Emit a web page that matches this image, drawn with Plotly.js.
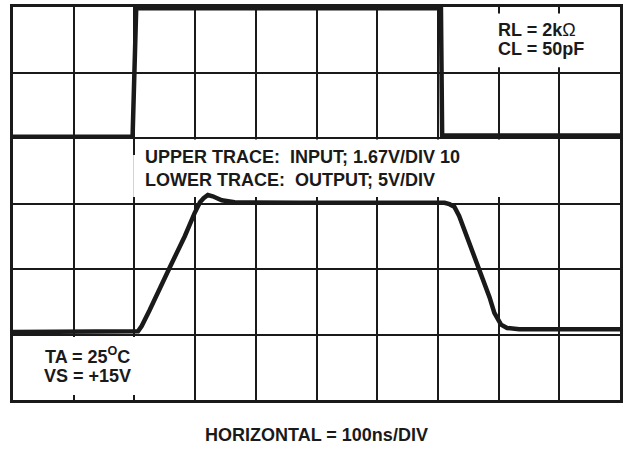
<!DOCTYPE html>
<html>
<head>
<meta charset="utf-8">
<script src="https://cdn.plot.ly/plotly-3.0.1.min.js"></script>
<style>
  html, body { margin: 0; padding: 0; background: #ffffff; }
  #chart { width: 623px; height: 449px; }
</style>
</head>
<body>
<div id="chart"></div>
<script>
// Time axis in ns (10 divisions x 100 ns), vertical axis in divisions (6 divisions)
const inputTime = [0, 197, 203, 705, 707, 1000];
const inputLevel = [4.02, 4.02, 5.98, 5.98, 4.04, 4.04];

const outputTime = [0, 197, 206, 212, 225, 258, 283, 299, 308, 314, 321, 329, 344, 365, 406, 472, 554, 636, 711, 719, 727, 735, 752, 768, 785, 793, 804, 814, 834, 900, 1000];
const outputLevel = [1.04, 1.04, 1.05, 1.13, 1.37, 2.02, 2.50, 2.85, 3.02, 3.08, 3.13, 3.11, 3.05, 3.02, 3.01, 3.01, 3.01, 3.01, 3.01, 2.99, 2.95, 2.81, 2.40, 2.02, 1.57, 1.33, 1.15, 1.10, 1.08, 1.08, 1.08];

const labelRL = 'RL = 2k<span style="font-weight:normal">Ω</span>';
const labelCL = 'CL = 50pF';
const labelUpper = 'UPPER TRACE:\u00a0 INPUT; 1.67V/DIV 10';
const labelLower = 'LOWER TRACE:\u00a0 OUTPUT; 5V/DIV';
const labelTA = 'TA = 25<sup>O</sup>C';
const labelVS = 'VS = +15V';
const labelHorizontal = 'HORIZONTAL = 100ns/DIV';

const ink = '#1a1a1a';
const textFont = { family: 'Liberation Sans, Arial, Helvetica, sans-serif', size: 18, color: ink, weight: 'bold' };

const traces = [
  { x: inputTime, y: inputLevel, type: 'scatter', mode: 'lines',
    line: { color: ink, width: 4.5 }, hoverinfo: 'skip' },
  { x: outputTime, y: outputLevel, type: 'scatter', mode: 'lines',
    line: { color: ink, width: 4.5 }, hoverinfo: 'skip' }
];

function box(x0, x1, y0, y1) {
  return { type: 'rect', xref: 'x', yref: 'y', x0: x0, x1: x1, y0: y0, y1: y1,
           fillcolor: '#ffffff', line: { width: 0 }, layer: 'between' };
}

const layout = {
  width: 623, height: 449,
  margin: { l: 13, r: 3, t: 7, b: 49, pad: 0 },
  paper_bgcolor: '#ffffff', plot_bgcolor: '#ffffff',
  showlegend: false,
  xaxis: { range: [0, 1000], dtick: 100, tick0: 0, showgrid: true, gridcolor: ink, gridwidth: 2,
           zeroline: false, showline: true, mirror: true, linecolor: ink, linewidth: 3,
           showticklabels: false, ticks: '', fixedrange: true },
  yaxis: { range: [0, 6], dtick: 1, tick0: 0, showgrid: true, gridcolor: ink, gridwidth: 2,
           zeroline: false, showline: true, mirror: true, linecolor: ink, linewidth: 3,
           showticklabels: false, ticks: '', fixedrange: true },
  shapes: [
    box(198, 835, 3.10, 3.74),
    box(204, 835, 3.74, 3.977),
    box(715, 975, 5.08, 5.90),
    box(3.3, 207.6, 0.076, 0.962)
  ],
  annotations: [
    { text: labelRL, x: 795.7, y: 5.656, xref: 'x', yref: 'y', xanchor: 'left', yanchor: 'middle', showarrow: false, font: textFont },
    { text: labelCL, x: 795.7, y: 5.366, xref: 'x', yref: 'y', xanchor: 'left', yanchor: 'middle', showarrow: false, font: textFont },
    { text: labelUpper, x: 214.7, y: 3.705, xref: 'x', yref: 'y', xanchor: 'left', yanchor: 'middle', showarrow: false, font: textFont },
    { text: labelLower, x: 214.7, y: 3.359, xref: 'x', yref: 'y', xanchor: 'left', yanchor: 'middle', showarrow: false, font: textFont },
    { text: labelTA, x: 122, y: 0.672, xref: 'x', yref: 'y', xanchor: 'center', yanchor: 'middle', showarrow: false, font: textFont },
    { text: labelVS, x: 122, y: 0.374, xref: 'x', yref: 'y', xanchor: 'center', yanchor: 'middle', showarrow: false, font: textFont },
    { text: labelHorizontal, x: 0.5, y: 0, xref: 'paper', yref: 'paper', xanchor: 'center', yanchor: 'middle', yshift: -35, showarrow: false, font: textFont }
  ]
};

Plotly.newPlot('chart', traces, layout, { staticPlot: true, displayModeBar: false });
</script>
</body>
</html>
